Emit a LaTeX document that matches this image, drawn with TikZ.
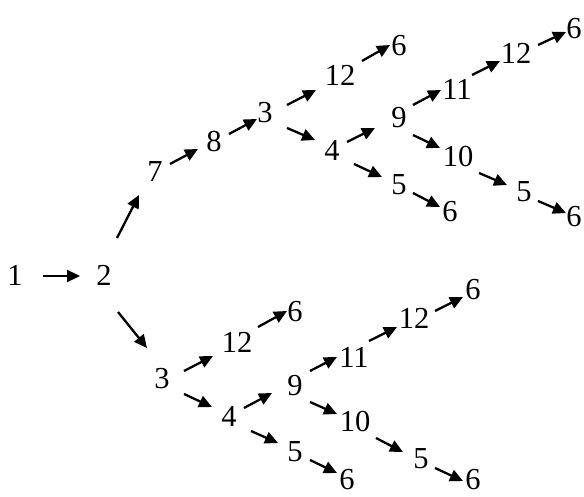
\documentclass[tikz,border=0pt]{standalone}
\usepackage{fontspec}
\setmainfont{Liberation Serif}
\usetikzlibrary{arrows.meta,calc}
\begin{document}
\begin{tikzpicture}[x=1pt,y=-1pt,
  lbl/.style={inner sep=0pt,outer sep=0pt,font=\fontsize{30.5}{36}\selectfont},
  arr/.style={line width=2.3pt,-{Triangle[length=13pt,width=12pt]}}]
\useasboundingbox (0,0) rectangle (584,497);
% nodes
\node[lbl] (a1) at (15,275) {1};
\node[lbl] (a2) at (104,275) {2};
% upper branch
\node[lbl] (u7) at (155,172) {7};
\node[lbl] (u8) at (214,142) {8};
\node[lbl] (u3) at (265,113) {3};
\node[lbl] (u12) at (340,75) {12};
\node[lbl] (u6a) at (399,46) {6};
\node[lbl] (u4) at (332,150) {4};
\node[lbl] (u9) at (399,118) {9};
\node[lbl] (u5) at (399,185) {5};
\node[lbl] (u6b) at (450,212) {6};
\node[lbl] (u11) at (457,89) {11};
\node[lbl] (u12b) at (516,53) {12};
\node[lbl] (u6c) at (574,29) {6};
\node[lbl] (u10) at (458,157) {10};
\node[lbl] (u5b) at (524,192) {5};
\node[lbl] (u6d) at (574,217) {6};
% lower branch
\node[lbl] (l3) at (162,379) {3};
\node[lbl] (l12) at (237,342) {12};
\node[lbl] (l6a) at (295,312) {6};
\node[lbl] (l4) at (229,416) {4};
\node[lbl] (l9) at (295,386) {9};
\node[lbl] (l5) at (295,452) {5};
\node[lbl] (l6b) at (347,480) {6};
\node[lbl] (l11) at (354,357) {11};
\node[lbl] (l12b) at (414,318) {12};
\node[lbl] (l6c) at (473,290) {6};
\node[lbl] (l10) at (355,422) {10};
\node[lbl] (l5b) at (421,459) {5};
\node[lbl] (l6d) at (473,480) {6};
% arrows
\draw[arr] ($(a1)+(28,1)$) -- ($(a2)+(-24,1)$);
\draw[arr] ($(a2)+(13,-37)$) -- ($(u7)+(-16,23)$);
\draw[arr] ($(a2)+(14,37)$) -- ($(l3)+(-15,-31)$);
\draw[arr] ($(u7)+(15,-8)$) -- ($(u8)+(-16,7)$);
\draw[arr] ($(u8)+(15,-8)$) -- ($(u3)+(-8,6)$);
\draw[arr] ($(u3)+(22,-8)$) -- ($(u12)+(-24,15)$);
\draw[arr] ($(u12)+(22,-14)$) -- ($(u6a)+(-9,-1)$);
\draw[arr] ($(u3)+(22,15)$) -- ($(u4)+(-17,-10)$);
\draw[arr] ($(u4)+(15,-8)$) -- ($(u9)+(-24,10)$);
\draw[arr] ($(u4)+(22,14)$) -- ($(u5)+(-17,-8)$);
\draw[arr] ($(u5)+(14,8)$) -- ($(u6b)+(-10,-5)$);
\draw[arr] ($(u9)+(14,-13)$) -- ($(u11)+(-16,1)$);
\draw[arr] ($(u11)+(15,-14)$) -- ($(u12b)+(-16,8)$);
\draw[arr] ($(u12b)+(22,-8)$) -- ($(u6c)+(-8,3)$);
\draw[arr] ($(u9)+(14,17)$) -- ($(u10)+(-18,-9)$);
\draw[arr] ($(u10)+(21,16)$) -- ($(u5b)+(-17,-7)$);
\draw[arr] ($(u5b)+(14,9)$) -- ($(u6d)+(-8,-4)$);
\draw[arr] ($(l3)+(22,-8)$) -- ($(l12)+(-24,14)$);
\draw[arr] ($(l12)+(21,-15)$) -- ($(l6a)+(-8,-1)$);
\draw[arr] ($(l3)+(22,15)$) -- ($(l4)+(-17,-9)$);
\draw[arr] ($(l4)+(15,-8)$) -- ($(l9)+(-23,7)$);
\draw[arr] ($(l4)+(22,15)$) -- ($(l5)+(-17,-9)$);
\draw[arr] ($(l5)+(15,8)$) -- ($(l6b)+(-10,-7)$);
\draw[arr] ($(l9)+(15,-15)$) -- ($(l11)+(-17,0)$);
\draw[arr] ($(l11)+(15,-16)$) -- ($(l12b)+(-17,9)$);
\draw[arr] ($(l12b)+(21,-7)$) -- ($(l6c)+(-10,7)$);
\draw[arr] ($(l9)+(15,16)$) -- ($(l10)+(-18,-8)$);
\draw[arr] ($(l10)+(21,16)$) -- ($(l5b)+(-18,-7)$);
\draw[arr] ($(l5b)+(14,9)$) -- ($(l6d)+(-10,1)$);
\end{tikzpicture}
\end{document}
